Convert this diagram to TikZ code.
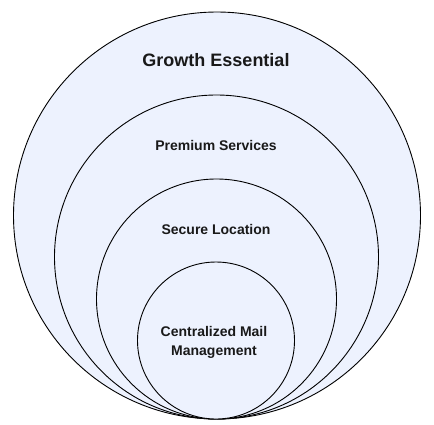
\documentclass[tikz,border=0pt]{standalone}
\usepackage{fontspec}
\setmainfont{Liberation Sans}
\begin{document}
\begin{tikzpicture}[x=1pt,y=-1pt,
  ring/.style={circle, draw=black, line width=0.9pt, fill=ringfill, inner sep=0pt},
  lbl/.style={font=\bfseries\fontsize{14}{19}\selectfont, text=black!90, align=center}]
\definecolor{ringfill}{HTML}{EDF2FE}
\useasboundingbox (0,0) rectangle (434,424);
\node[ring, minimum size=407pt] (c1) at (217,215.5) {};
\node[ring, minimum size=324pt] (c2) at (216.5,257) {};
\node[ring, minimum size=240pt] (c3) at (216.5,299) {};
\node[ring, minimum size=157pt] (c4) at (216,340.5) {};
\node[lbl, font=\bfseries\fontsize{18}{21}\selectfont] (t1) at (216,60.5) {Growth Essential};
\node[lbl] (t2) at (216,145) {Premium Services};
\node[lbl] (t3) at (216,229) {Secure Location};
\node[lbl] (t4) at (214,342.5) {Centralized Mail\\Management};
\end{tikzpicture}
\end{document}
